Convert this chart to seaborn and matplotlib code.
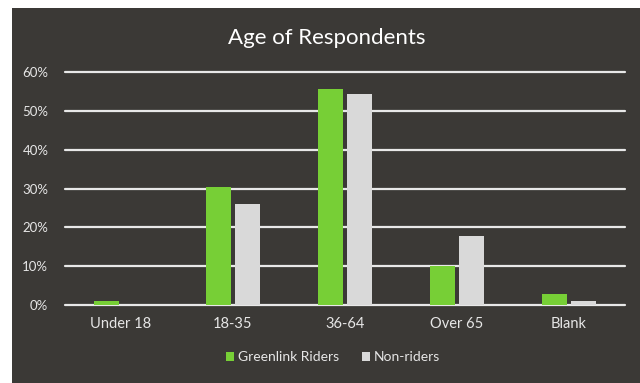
import matplotlib
matplotlib.use("Agg")
import matplotlib.pyplot as plt
from matplotlib.patches import Rectangle
from matplotlib.ticker import PercentFormatter
import pandas as pd
import seaborn as sns

# Survey shares by age group
age_groups = ["Under 18", "18-35", "36-64", "Over 65", "Blank"]
greenlink_riders = [0.010, 0.303, 0.556, 0.101, 0.029]
non_riders = [0.000, 0.260, 0.543, 0.178, 0.011]
series_names = ["Greenlink Riders", "Non-riders"]
y_ticks = [0.0, 0.1, 0.2, 0.3, 0.4, 0.5, 0.6]

df = pd.DataFrame({
    "Age": age_groups * 2,
    "Share": greenlink_riders + non_riders,
    "Group": [series_names[0]] * len(age_groups) + [series_names[1]] * len(age_groups),
})

BG = "#3b3936"
GREEN = "#77cf36"
GREY = "#d9d9d9"
TEXT = "#e6e6e6"

sns.set_theme(style="dark")
plt.rcParams["font.family"] = ["Lato", "DejaVu Sans"]

fig = plt.figure(figsize=(6.4, 3.83), dpi=100, facecolor="white")
fig.patches.append(Rectangle((12 / 640, 0), 1 - 12 / 640, 1 - 8 / 383,
                             transform=fig.transFigure, facecolor=BG,
                             edgecolor="none", zorder=-10))

ax = fig.add_axes([65 / 640, 1 - 305 / 383, 560 / 640, 233 / 383])
ax.set_facecolor("none")

sns.barplot(data=df, x="Age", y="Share", hue="Group", hue_order=series_names,
            palette=[GREEN, GREY], width=0.51, gap=0.12, saturation=1,
            edgecolor="none", ax=ax, zorder=3)

ax.set_ylim(0, 0.6)
ax.set_xlim(-0.5, len(age_groups) - 0.5)
ax.set_yticks(y_ticks)
ax.yaxis.set_major_formatter(PercentFormatter(1.0, decimals=0))
for y in y_ticks:
    ax.axhline(y, color="#e8e8e8", lw=1.6, zorder=1, clip_on=False)
ax.grid(False)
for s in ax.spines.values():
    s.set_visible(False)

ax.set_xlabel("")
ax.set_ylabel("")
ax.tick_params(axis="y", colors=TEXT, labelsize=9.5, pad=12, length=0)
ax.tick_params(axis="x", colors=TEXT, labelsize=10.5, pad=9, length=0)

# Chart title centred over the whole dark panel
fig.text(327 / 640, 1 - 38 / 383, "Age of Respondents", color="white",
         fontsize=16, ha="center", va="center")

handles, labels = ax.get_legend_handles_labels()
ax.get_legend().remove()
fig.legend(handles, labels, loc="center", bbox_to_anchor=(333 / 640, 1 - 357 / 383),
           ncol=2, frameon=False, fontsize=10, labelcolor=TEXT,
           handlelength=0.6, handleheight=0.6, handletextpad=0.3, columnspacing=1.6)

fig.savefig("out.png", dpi=100, facecolor=fig.get_facecolor())
